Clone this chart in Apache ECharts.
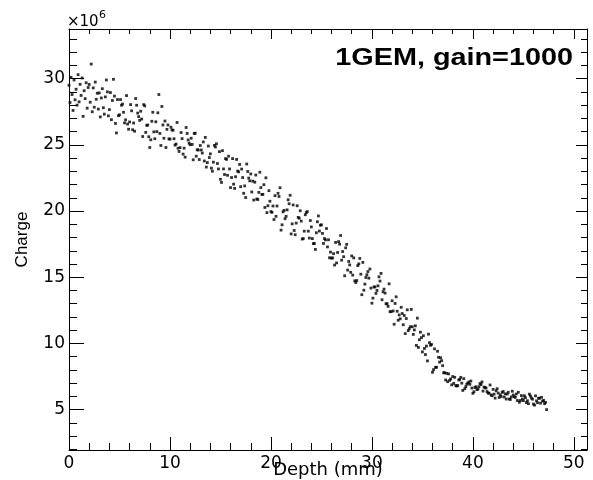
<!DOCTYPE html>
<html><head><meta charset="utf-8">
<script src="https://cdn.jsdelivr.net/npm/echarts@6/dist/echarts.min.js"></script>
<style>html,body{margin:0;padding:0;background:#fff}#c{width:593px;height:480px}</style>
</head><body><div id="c"></div>
<script>
const depth = [
0,0.1,0.2,0.3,0.4,0.5,0.6,0.7,0.8,0.9,
1,1.1,1.2,1.3,1.4,1.5,1.6,1.7,1.8,1.9,
2,2.1,2.2,2.3,2.4,2.5,2.6,2.7,2.8,2.9,
3,3.1,3.2,3.3,3.4,3.5,3.6,3.7,3.8,3.9,
4,4.1,4.2,4.3,4.4,4.5,4.6,4.7,4.8,4.9,
5,5.1,5.2,5.3,5.4,5.5,5.6,5.7,5.8,5.9,
6,6.1,6.2,6.3,6.4,6.5,6.6,6.7,6.8,6.9,
7,7.1,7.2,7.3,7.4,7.5,7.6,7.7,7.8,7.9,
8,8.1,8.2,8.3,8.4,8.5,8.6,8.7,8.8,8.9,
9,9.1,9.2,9.3,9.4,9.5,9.6,9.7,9.8,9.9,
10,10.1,10.2,10.3,10.4,10.5,10.6,10.7,10.8,10.9,
11,11.1,11.2,11.3,11.4,11.5,11.6,11.7,11.8,11.9,
12,12.1,12.2,12.3,12.4,12.5,12.6,12.7,12.8,12.9,
13,13.1,13.2,13.3,13.4,13.5,13.6,13.7,13.8,13.9,
14,14.1,14.2,14.3,14.4,14.5,14.6,14.7,14.8,14.9,
15,15.1,15.2,15.3,15.4,15.5,15.6,15.7,15.8,15.9,
16,16.1,16.2,16.3,16.4,16.5,16.6,16.7,16.8,16.9,
17,17.1,17.2,17.3,17.4,17.5,17.6,17.7,17.8,17.9,
18,18.1,18.2,18.3,18.4,18.5,18.6,18.7,18.8,18.9,
19,19.1,19.2,19.3,19.4,19.5,19.6,19.7,19.8,19.9,
20,20.1,20.2,20.3,20.4,20.5,20.6,20.7,20.8,20.9,
21,21.1,21.2,21.3,21.4,21.5,21.6,21.7,21.8,21.9,
22,22.1,22.2,22.3,22.4,22.5,22.6,22.7,22.8,22.9,
23,23.1,23.2,23.3,23.4,23.5,23.6,23.7,23.8,23.9,
24,24.1,24.2,24.3,24.4,24.5,24.6,24.7,24.8,24.9,
25,25.1,25.2,25.3,25.4,25.5,25.6,25.7,25.8,25.9,
26,26.1,26.2,26.3,26.4,26.5,26.6,26.7,26.8,26.9,
27,27.1,27.2,27.3,27.4,27.5,27.6,27.7,27.8,27.9,
28,28.1,28.2,28.3,28.4,28.5,28.6,28.7,28.8,28.9,
29,29.1,29.2,29.3,29.4,29.5,29.6,29.7,29.8,29.9,
30,30.1,30.2,30.3,30.4,30.5,30.6,30.7,30.8,30.9,
31,31.1,31.2,31.3,31.4,31.5,31.6,31.7,31.8,31.9,
32,32.1,32.2,32.3,32.4,32.5,32.6,32.7,32.8,32.9,
33,33.1,33.2,33.3,33.4,33.5,33.6,33.7,33.8,33.9,
34,34.1,34.2,34.3,34.4,34.5,34.6,34.7,34.8,34.9,
35,35.1,35.2,35.3,35.4,35.5,35.6,35.7,35.8,35.9,
36,36.1,36.2,36.3,36.4,36.5,36.6,36.7,36.8,36.9,
37,37.1,37.2,37.3,37.4,37.5,37.6,37.7,37.8,37.9,
38,38.1,38.2,38.3,38.4,38.5,38.6,38.7,38.8,38.9,
39,39.1,39.2,39.3,39.4,39.5,39.6,39.7,39.8,39.9,
40,40.1,40.2,40.3,40.4,40.5,40.6,40.7,40.8,40.9,
41,41.1,41.2,41.3,41.4,41.5,41.6,41.7,41.8,41.9,
42,42.1,42.2,42.3,42.4,42.5,42.6,42.7,42.8,42.9,
43,43.1,43.2,43.3,43.4,43.5,43.6,43.7,43.8,43.9,
44,44.1,44.2,44.3,44.4,44.5,44.6,44.7,44.8,44.9,
45,45.1,45.2,45.3,45.4,45.5,45.6,45.7,45.8,45.9,
46,46.1,46.2,46.3,46.4,46.5,46.6,46.7,46.8,46.9,
47,47.1,47.2,47.3
];
const charge = [
29.5,28.2,30.1,28.8,27.6,29.9,28.4,29.2,28.0,30.3,
28.25,29.57,28.73,30.05,27.15,29.09,28.49,29.69,27.77,29.33,
29.56,28.22,31.1,27.5,29.3,27.84,29.74,28.44,28.9,27.7,
28.92,27.11,28.54,29.24,27.8,27.32,28.62,29.9,29.0,27.19,
27.66,28.95,26.9,28.35,29.95,28.68,26.62,25.9,28.42,27.2,
27.27,28.42,27.99,28.08,27.46,26.66,26.89,28.72,26.57,26.18,
26.73,28.04,27.57,26.14,26.65,26.03,28.5,27.99,27.4,27.13,
26.85,27.54,26.95,25.63,28.04,27.94,25.94,26.47,26.5,25.61,
24.8,25.38,26.78,27.46,25.98,25.46,26.74,26.0,27.42,28.8,
25.86,24.95,27.9,26.5,25.5,26.8,24.8,26.17,26.5,25.45,
25.43,26.33,26.13,26.1,25.46,24.98,25.06,26.69,24.74,24.5,
24.79,25.93,25.47,24.3,24.75,24.07,26.31,25.86,25.37,25.13,
25.01,25.5,25.03,23.87,25.86,25.88,24.14,24.63,24.61,23.89,
24.95,24.61,24.38,25.22,23.78,25.56,23.32,23.66,24.91,24.04,
24.32,23.24,23.01,23.69,24.96,24.84,25.08,23.59,23.18,24.49,
22.4,22.16,24.56,23.18,22.76,23.96,23.9,22.7,24.14,23.18,
21.77,22.53,23.96,22.03,21.71,22.59,23.9,23.02,22.96,23.52,
21.84,23.17,22.53,21.34,21.9,21.02,23.55,22.99,22.49,22.28,
22.8,21.44,22.26,20.83,22.18,22.72,20.91,20.87,21.41,22.93,
21.77,21.25,21.26,21.99,20.27,22.51,19.88,20.4,21.54,20.74,
19.96,19.9,20.38,19.36,21.16,19.6,20.38,21.34,21.1,21.76,
18.56,18.96,19.94,20.05,19.42,19.6,20.09,20.85,20.55,21.19,
18.27,19.03,20.46,18.53,18.21,19.09,20.4,19.52,19.46,20.02,
19.24,17.88,17.92,18.48,19.72,19.88,19.96,18.48,17.96,19.28,
18.8,17.92,17.54,17.55,17.1,18.36,19.19,19.63,18.49,18.93,
18.96,18.31,17.55,17.92,17.82,18.68,17.29,17.83,16.47,16.9,
16.44,16.46,16.78,15.92,17.63,16.08,16.87,17.69,17.5,18.15,
16.29,16.94,16.55,15.11,17.22,17.48,15.54,16.19,15.93,15.37,
16.61,15.16,16.46,14.73,14.6,14.75,15.88,16.01,16.42,15.23,
13.68,16.12,14.02,14.48,14.98,15.19,15.43,14.93,15.62,14.18,
13.04,13.42,14.26,14.27,13.78,14.0,14.35,15.03,14.71,15.29,
13.3,13.9,14.1,13.8,13.0,13.0,12.8,14.5,12.4,12.4,
13.22,12.45,11.45,13.02,13.52,12.43,11.75,12.15,11.86,12.73,
12.26,11.41,12.11,10.74,11.88,12.54,10.97,11.11,11.26,12.57,
11.26,10.68,11.02,11.33,9.85,11.91,9.7,10.28,10.85,10.44,
9.36,10.58,9.62,9.16,9.8,8.68,10.7,10.06,9.86,9.92,
7.82,8.02,9.59,8.19,8.2,9.41,8.95,8.59,8.92,8.7,
8.32,7.78,7.79,7.24,7.74,7.11,7.7,7.21,7.32,6.87,
7.5,6.98,7.44,6.82,6.78,6.82,7.24,7.28,7.44,7.0,
6.45,7.34,6.58,6.74,6.92,7.0,7.09,6.91,7.16,6.63,
6.23,6.35,6.67,6.73,6.51,6.55,6.73,6.97,6.89,7.09,
6.4,6.7,6.67,6.63,6.37,6.25,6.24,6.86,6.11,6.05,
6.53,6.17,5.87,6.43,6.58,6.25,5.92,6.12,5.99,6.3,
6.37,5.95,6.19,5.8,6.18,6.31,5.8,5.77,5.96,6.39,
6.1,5.97,5.93,6.18,5.69,6.31,5.56,5.69,6.06,5.8,
5.68,6.05,5.9,5.53,5.67,5.45,6.17,6.03,5.87,5.79,
5.42,5.34,6.04,5.66,5.52,5.86,5.86,5.49,5.93,5.64,
5.7,5.45,5.55,5.0
];
const xMajor = [0,10,20,30,40,50];
const xMinor = [2,4,6,8,12,14,16,18,22,24,26,28,32,34,36,38,42,44,46,48];
const yMajor = [5,10,15,20,25,30];
const yMinor = [2,3,4,6,7,8,9,11,12,13,14,16,17,18,19,21,22,23,24,26,27,28,29,31,32,33];
const titleText = '1GEM, gain=1000';
const xName = 'Depth (mm)';
const yName = 'Charge';

const X_MIN = 0, X_MAX = 51.3, Y_MIN = 1.95, Y_MAX = 33.75;
const line = {color:'#000', width:1};
function xAx(pos, vals, len, main) {
  return {type:'value', min:X_MIN, max:X_MAX, position:pos,
    axisLine:{show:main, onZero:false, lineStyle:line},
    axisTick:{show:true, inside:true, length:len, customValues:vals, lineStyle:line},
    axisLabel:{show:false}, splitLine:{show:false}, minorTick:{show:false}};
}
function yAx(pos, vals, len, main) {
  return {type:'value', min:Y_MIN, max:Y_MAX, position:pos,
    axisLine:{show:main, onZero:false, lineStyle:line},
    axisTick:{show:true, inside:true, length:len, customValues:vals, lineStyle:line},
    axisLabel:{show:false}, splitLine:{show:false}, minorTick:{show:false}};
}
const xb = xAx('bottom', xMajor, 13, true);
xb.axisLabel = {show:true, customValues:xMajor, margin:5, color:'#000',
  fontFamily:'DejaVu Sans', fontSize:17, formatter: v => String(Math.round(v))};
xb.name = xName; xb.nameLocation = 'middle'; xb.nameGap = 11; xb.nameMoveOverlap = false;
xb.nameTextStyle = {color:'#000', fontFamily:'DejaVu Sans', fontSize:18};
const yl = yAx('left', yMajor, 15, true);
yl.axisLabel = {show:true, customValues:yMajor, margin:4, color:'#000',
  fontFamily:'DejaVu Sans', fontSize:17, formatter: v => String(Math.round(v))};
yl.name = yName; yl.nameLocation = 'middle'; yl.nameGap = 38; yl.nameMoveOverlap = false;
yl.nameTextStyle = {color:'#000', fontFamily:'Liberation Sans', fontSize:17};

const chart = echarts.init(document.getElementById('c'), null, {renderer:'canvas'});
chart.setOption({
  animation:false,
  backgroundColor:'#fff',
  grid:{left:69, right:6, top:29, bottom:30, outerBoundsMode:'none'},
  xAxis:[xb, xAx('bottom', xMinor, 7, false), xAx('top', xMajor, 10, true), xAx('top', xMinor, 5, false)],
  yAxis:[yl, yAx('left', yMinor, 8, false), yAx('right', yMajor, 11, true), yAx('right', yMinor, 6, false)],
  graphic:[
    {type:'text', x:573, y:58, scaleX:1.2, silent:true,
      style:{text:titleText, x:0, y:0, align:'right', textAlign:'right', verticalAlign:'middle', textVerticalAlign:'middle',
        font:'bold 24px "Liberation Sans", Arial, sans-serif', fill:'#000'}},
    {type:'text', x:67, y:30, silent:true,
      style:{text:'\u00d710', x:0, y:0, align:'left', textAlign:'left', verticalAlign:'bottom', textVerticalAlign:'bottom',
        font:'15px "DejaVu Sans", sans-serif', fill:'#000'}},
    {type:'text', x:99, y:10, silent:true,
      style:{text:'6', x:0, y:0, align:'left', textAlign:'left', verticalAlign:'top', textVerticalAlign:'top',
        font:'11px "DejaVu Sans", sans-serif', fill:'#000'}}
  ],
  series:[{type:'scatter', xAxisIndex:0, yAxisIndex:0, symbol:'rect', symbolSize:[2.8,2.8],
    itemStyle:{color:'#000'}, silent:true,
    data: depth.map((d,i) => [d, charge[i]])}]
});
</script>
</body></html>
